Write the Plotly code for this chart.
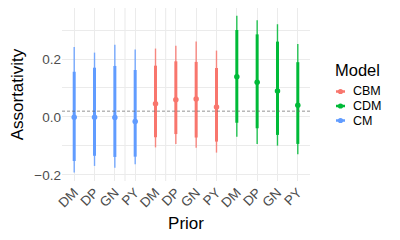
import plotly.graph_objects as go

priors = ["DM", "DP", "GN", "PY"]
models_x_order = ["CM", "CBM", "CDM"]
legend_order = ["CBM", "CDM", "CM"]
colors = {"CM": "#619CFF", "CBM": "#F8766D", "CDM": "#00BA38"}

# per model, per prior (DM, DP, GN, PY)
median = {
    "CM":  [-0.001, -0.001, -0.002, -0.016],
    "CBM": [0.046, 0.059, 0.062, 0.034],
    "CDM": [0.139, 0.120, 0.090, 0.040],
}
inner_lo = {
    "CM":  [-0.152, -0.134, -0.138, -0.137],
    "CBM": [-0.070, -0.059, -0.071, -0.085],
    "CDM": [-0.020, -0.039, -0.062, -0.093],
}
inner_hi = {
    "CM":  [0.156, 0.170, 0.176, 0.162],
    "CBM": [0.177, 0.192, 0.190, 0.169],
    "CDM": [0.300, 0.285, 0.260, 0.189],
}
outer_lo = {
    "CM":  [-0.192, -0.169, -0.175, -0.163],
    "CBM": [-0.105, -0.093, -0.106, -0.123],
    "CDM": [-0.068, -0.093, -0.099, -0.129],
}
outer_hi = {
    "CM":  [0.241, 0.222, 0.249, 0.233],
    "CBM": [0.236, 0.246, 0.260, 0.229],
    "CDM": [0.349, 0.334, 0.320, 0.252],
}
ref_line = 0.02
extra_grid = [2.5, 4.5]

tick_labels = [p for m in models_x_order for p in priors]
tick_pos = list(range(len(tick_labels)))

W, H = 400, 240
ML, MR, MT, MB = 62, 90, 8, 59
PW, PH = W - ML - MR, H - MT - MB


def px2paper(px, py):
    return (px - ML) / PW, (H - MB - py) / PH


fig = go.Figure()

for mi, m in enumerate(models_x_order):
    xs = [mi * len(priors) + i for i in range(len(priors))]
    c = colors[m]
    ox, oy, ix, iy = [], [], [], []
    for j, x in enumerate(xs):
        ox += [x, x, None]
        oy += [outer_lo[m][j], outer_hi[m][j], None]
        ix += [x, x, None]
        iy += [inner_lo[m][j], inner_hi[m][j], None]
    fig.add_trace(go.Scatter(x=ox, y=oy, mode="lines", line=dict(color=c, width=1.4),
                             opacity=0.85, showlegend=False, hoverinfo="skip"))
    fig.add_trace(go.Scatter(x=ix, y=iy, mode="lines", line=dict(color=c, width=3),
                             showlegend=False, hoverinfo="skip"))
    fig.add_trace(go.Scatter(x=xs, y=median[m], mode="markers",
                             marker=dict(color=c, size=5.5), showlegend=False, name=m))

fig.add_hline(y=ref_line, line=dict(color="#666666", width=0.7, dash="3px,2px"))
for g in extra_grid:
    fig.add_shape(type="line", x0=g, x1=g, y0=0, y1=1, xref="x", yref="paper",
                  line=dict(color="#EBEBEB", width=1.1), layer="below")

# custom compact legend (ggplot-like)
tx, ty = px2paper(334, 70)
fig.add_annotation(x=tx, y=ty, xref="paper", yref="paper", text="Model", showarrow=False,
                   xanchor="left", yanchor="middle", borderpad=0,
                   font=dict(size=16.5, color="black"))
for k, m in enumerate(legend_order):
    cy = 91.5 + k * 14.5
    x0, y0 = px2paper(336, cy)
    x1, _ = px2paper(345, cy)
    xc, _ = px2paper(340.5, cy)
    fig.add_shape(type="line", x0=x0, x1=x1, y0=y0, y1=y0, xref="paper", yref="paper",
                  line=dict(color=colors[m], width=2.5))
    r = 2.6
    fig.add_shape(type="circle", xref="paper", yref="paper",
                  x0=xc - r / PW, x1=xc + r / PW, y0=y0 - r / PH, y1=y0 + r / PH,
                  fillcolor=colors[m], line=dict(width=0))
    lx, _ = px2paper(352, cy)
    fig.add_annotation(x=lx, y=y0, xref="paper", yref="paper", text=m, showarrow=False,
                       xanchor="left", yanchor="middle", borderpad=0,
                       font=dict(size=12.5, color="black"))

fig.update_layout(
    width=W, height=H,
    margin=dict(l=ML, r=MR, t=MT, b=MB, autoexpand=False),
    paper_bgcolor="white", plot_bgcolor="white",
    font=dict(family="Liberation Sans, Arial, sans-serif", size=13, color="black"),
    showlegend=False,
)
fig.update_xaxes(range=[-0.6, 11.6], tickmode="array", tickvals=tick_pos, ticktext=tick_labels,
                 tickangle=-45, showgrid=True, gridcolor="#EBEBEB", gridwidth=1.1,
                 zeroline=False, ticks="", tickfont=dict(size=13.5, color="#4D4D4D"),
                 title=dict(text="Prior", font=dict(size=17), standoff=7))
fig.update_yaxes(range=[-0.221, 0.376], tickmode="array", tickvals=[-0.2, 0.0, 0.2],
                 ticktext=["\u22120.2", "0.0", "0.2"],
                 showgrid=True, gridcolor="#EBEBEB", gridwidth=1.1, zeroline=False, ticks="",
                 tickfont=dict(size=13.5, color="#4D4D4D"),
                 minor=dict(tickvals=[-0.1, 0.1, 0.3], showgrid=True, gridcolor="#EBEBEB", gridwidth=0.6),
                 title=dict(text="Assortativity", font=dict(size=17), standoff=6))

fig.write_html("out.html", config={"displayModeBar": False},
               post_script="document.body.style.margin='0';")
